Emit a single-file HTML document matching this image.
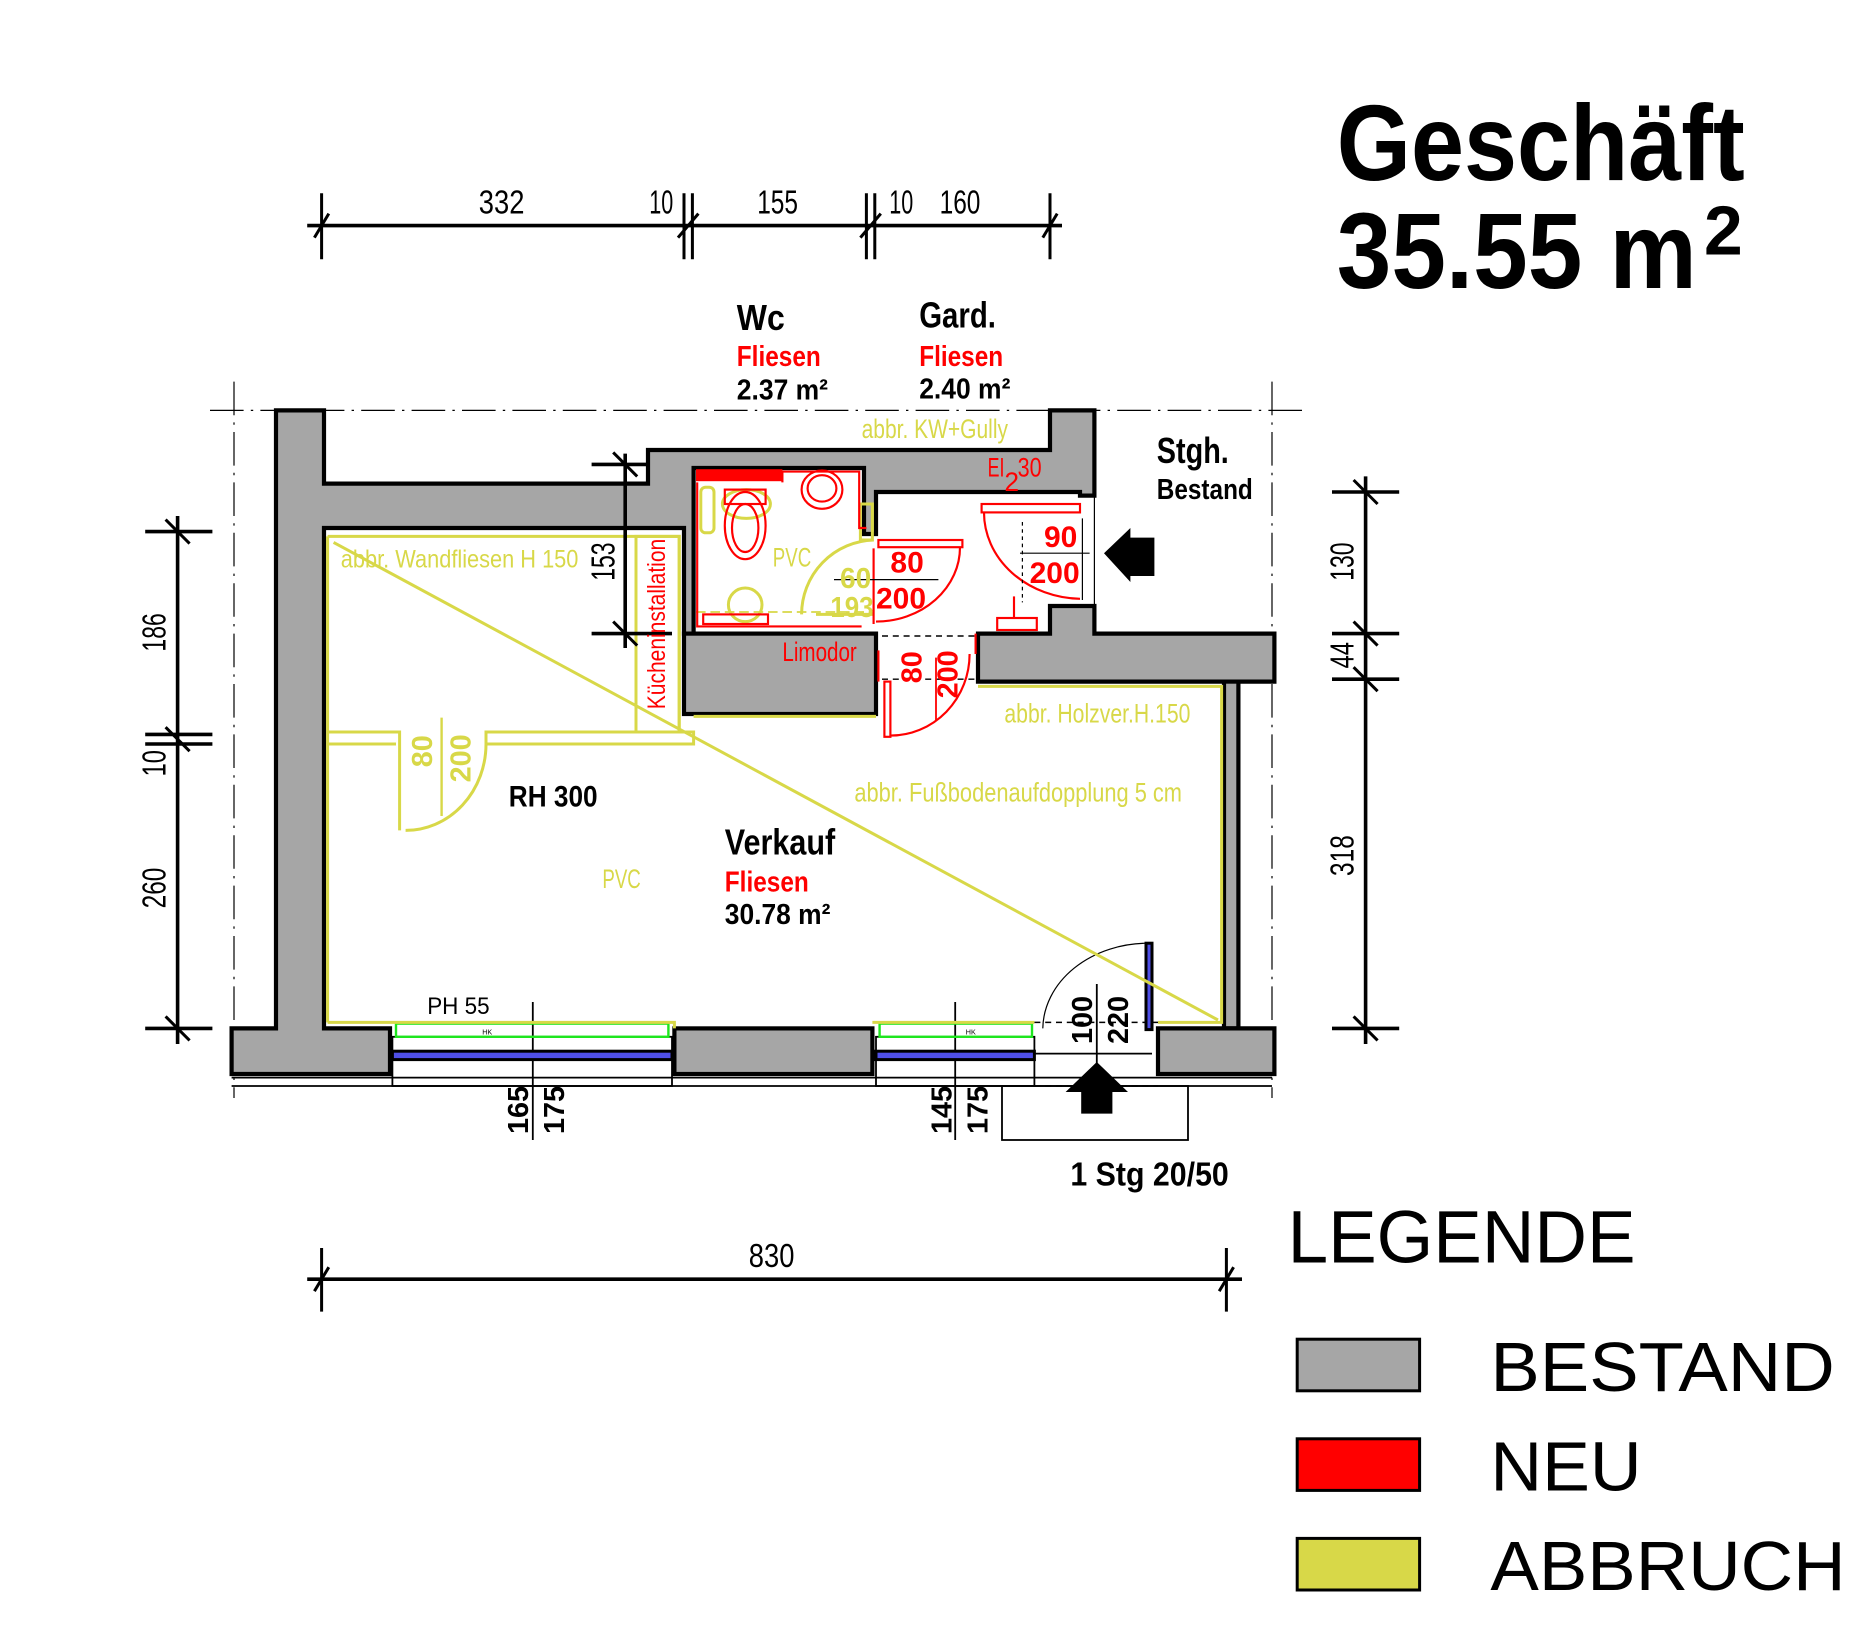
<!DOCTYPE html>
<html><head><meta charset="utf-8"><style>
html,body{margin:0;padding:0;background:#fff}
svg{display:block}
.n{font-family:"Liberation Sans Narrow","Liberation Sans",sans-serif}
.b{font-family:"Liberation Sans",sans-serif;font-weight:bold}
</style></head><body>
<svg width="1874" height="1650" viewBox="0 0 1561.67 1375" xmlns="http://www.w3.org/2000/svg">
<rect width="1561.67" height="1375" fill="#fff"/>
<g stroke="#000" stroke-width="1" stroke-dasharray="28,6,2,6" fill="none">
<line x1="175" y1="342" x2="1090" y2="342"/>
<line x1="195" y1="318" x2="195" y2="915"/>
<line x1="1060" y1="318" x2="1060" y2="915"/>
</g>
<g fill="#a6a6a6" stroke="#000" stroke-width="3.5" stroke-linejoin="miter">
<polygon points="230,342 270,342 270,403 540,403 540,375 875,375 875,342 912,342 912,413 900,413 900,410 730,410 730,445 720,445 720,390 578,390 578,528 570,528 570,440 270,440 270,857 325,857 325,895 193,895 193,857 230,857"/>
<rect x="570" y="528" width="160" height="67"/>
<polygon points="815,528 875,528 875,505 912,505 912,528 1062,528 1062,568 815,568"/>
<rect x="1020" y="568" width="12" height="289"/>
<rect x="562" y="857" width="165" height="38"/>
<polygon points="965,857 1062,857 1062,895 965,895"/>
</g>
<rect x="580" y="391" width="72" height="10" fill="#f00"/>
<g stroke="#000" stroke-width="1.5" fill="none">
<line x1="193" y1="905" x2="1060" y2="905"/>
<line x1="193" y1="898" x2="1060" y2="898"/>
<rect x="327" y="864" width="233" height="41"/>
<rect x="730" y="864" width="132" height="41"/>
<rect x="835" y="905" width="155" height="45"/>
<line x1="444" y1="835" x2="444" y2="950"/>
<line x1="796" y1="835" x2="796" y2="950"/>
<line x1="914" y1="820" x2="914" y2="905"/>
<line x1="862" y1="878" x2="960" y2="878"/>
</g>
<g stroke="#000" stroke-width="1.2" stroke-dasharray="5,4" fill="none">
<line x1="862" y1="852" x2="965" y2="852"/>
<line x1="862" y1="905" x2="965" y2="905"/>
<line x1="735" y1="530" x2="815" y2="530"/>
<line x1="735" y1="566" x2="815" y2="566"/>
</g>
<g fill="#5050e8" stroke="#000" stroke-width="2.5">
<rect x="327" y="876" width="233" height="7"/>
<rect x="730" y="876" width="132" height="7"/>
<rect x="955" y="786" width="5" height="72"/>
</g>
<g fill="none" stroke="#1ee61e" stroke-width="2">
<rect x="330" y="853" width="227" height="11"/>
<rect x="733" y="853" width="127" height="11"/>
</g>
<text x="406" y="862" font-size="6" font-family="Liberation Sans" text-anchor="middle">HK</text>
<text x="809" y="862" font-size="6" font-family="Liberation Sans" text-anchor="middle">HK</text>
<path d="M957,786 A88,72 0 0 0 869,857" fill="none" stroke="#000" stroke-width="1"/>
<polygon points="914,885 940,910 927,910 927,928 901,928 901,910 888,910" fill="#000"/>
<polygon points="920,461 942,440 942,448 962,448 962,480 942,480 942,485" fill="#000"/>
<g fill="none" stroke="#d8d848" stroke-width="2.5">
<polyline points="273,447 566,447 566,610"/>
<line x1="273" y1="447" x2="273" y2="852"/>
<polyline points="273,852 562,852 562,857"/>
<polyline points="727,852 862,852"/>
<polyline points="965,852 1018,852 1018,572 815,572"/>
<line x1="278" y1="452" x2="1015" y2="850"/>
<rect x="530" y="447" width="36" height="163"/>
<polyline points="273,610 333,610 333,692"/>
<polyline points="273,620 330,620"/>
<polyline points="405,620 405,610 578,610 578,620 405,620"/>
<path d="M338,692 A67,72 0 0 0 405,620"/>
<line x1="368" y1="598" x2="368" y2="680" stroke-width="2"/>
<line x1="578" y1="597" x2="730" y2="597"/>
<path d="M668,512 A62,62 0 0 1 728,450"/>
<line x1="680" y1="512" x2="728" y2="512"/>
<line x1="580" y1="510" x2="728" y2="510" stroke-dasharray="8,4" stroke-width="1.5"/>
<circle cx="621" cy="504" r="14"/>
<ellipse cx="622" cy="420" rx="20" ry="12"/>
<rect x="584" y="406" width="11" height="38" rx="4"/>
<rect x="717" y="420" width="10" height="30"/>
</g>
<g fill="none" stroke="#f00" stroke-width="1.8">
<polyline points="581,402 581,522 718,522"/>
<polyline points="652,402 652,393 716,393 716,440 722,440"/>
<rect x="586" y="512" width="54" height="8"/>
<ellipse cx="621" cy="438" rx="17" ry="28"/>
<ellipse cx="621" cy="440" rx="11" ry="20"/>
<rect x="604" y="408" width="34" height="12"/>
<ellipse cx="685" cy="408" rx="17" ry="16"/>
<ellipse cx="685" cy="407" rx="12" ry="11"/>
<rect x="732" y="450" width="70" height="6"/>
<path d="M800,456 A70,62 0 0 1 730,518"/>
<line x1="728" y1="457" x2="728" y2="520"/>
<rect x="818" y="420" width="82" height="7"/>
<path d="M820,427 A82,72 0 0 0 900,499"/>
<rect x="737" y="568" width="5" height="46"/>
<path d="M742,613 A66,68 0 0 0 808,545"/>
<line x1="732" y1="542" x2="732" y2="568"/>
<line x1="813" y1="528" x2="813" y2="545"/>
<line x1="852" y1="435" x2="852" y2="502" stroke="#000" stroke-width="1" stroke-dasharray="3,3"/>
<rect x="831" y="515" width="33" height="10"/>
<line x1="845" y1="497" x2="845" y2="515"/>
</g>
<g stroke="#000" stroke-width="1" fill="none">
<line x1="782" y1="483" x2="695" y2="483"/>
<line x1="850" y1="461" x2="908" y2="461"/>
<line x1="780" y1="548" x2="780" y2="600" stroke="#f00" stroke-width="1.5"/>
<line x1="902" y1="432" x2="902" y2="500"/>
<line x1="912" y1="413" x2="912" y2="505"/>
</g>
<g stroke="#000" stroke-width="3" fill="none">
<line x1="256" y1="188" x2="885" y2="188"/>
<line x1="121" y1="443" x2="177" y2="443"/>
<line x1="148" y1="430" x2="148" y2="870"/>
<line x1="121" y1="612" x2="177" y2="612"/>
<line x1="121" y1="620" x2="177" y2="620"/>
<line x1="121" y1="857" x2="177" y2="857"/>
<line x1="1138" y1="397" x2="1138" y2="870"/>
<line x1="1110" y1="410" x2="1166" y2="410"/>
<line x1="1110" y1="528" x2="1166" y2="528"/>
<line x1="1110" y1="566" x2="1166" y2="566"/>
<line x1="1110" y1="857" x2="1166" y2="857"/>
<line x1="256" y1="1066" x2="1035" y2="1066"/>
<line x1="521" y1="378" x2="521" y2="540"/>
<line x1="493" y1="387" x2="540" y2="387"/>
<line x1="493" y1="528" x2="560" y2="528"/>
</g>
<g stroke="#000" stroke-width="2.5" fill="none">
<line x1="268" y1="161" x2="268" y2="216"/><line x1="262" y1="198" x2="274" y2="178"/>
<line x1="570" y1="161" x2="570" y2="216"/><line x1="577" y1="161" x2="577" y2="216"/><line x1="565" y1="198" x2="582" y2="178"/>
<line x1="722" y1="161" x2="722" y2="216"/><line x1="729" y1="161" x2="729" y2="216"/><line x1="717" y1="198" x2="734" y2="178"/>
<line x1="875" y1="161" x2="875" y2="216"/><line x1="869" y1="198" x2="881" y2="178"/>
<line x1="268" y1="1040" x2="268" y2="1093"/><line x1="262" y1="1076" x2="274" y2="1056"/>
<line x1="1022" y1="1040" x2="1022" y2="1093"/><line x1="1016" y1="1076" x2="1028" y2="1056"/>
<line x1="138" y1="433" x2="158" y2="453"/><line x1="138" y1="606" x2="158" y2="626"/><line x1="138" y1="847" x2="158" y2="867"/>
<line x1="1128" y1="400" x2="1148" y2="420"/><line x1="1128" y1="518" x2="1148" y2="538"/><line x1="1128" y1="556" x2="1148" y2="576"/><line x1="1128" y1="847" x2="1148" y2="867"/>
<line x1="511" y1="377" x2="531" y2="397"/><line x1="511" y1="518" x2="531" y2="538"/>
</g>
<g class="n" font-size="28" fill="#000" lengthAdjust="spacingAndGlyphs">
<text x="399" y="178" textLength="38" lengthAdjust="spacingAndGlyphs">332</text>
<text x="541" y="178" textLength="20" lengthAdjust="spacingAndGlyphs">10</text>
<text x="631" y="178" textLength="34" lengthAdjust="spacingAndGlyphs">155</text>
<text x="741" y="178" textLength="20" lengthAdjust="spacingAndGlyphs">10</text>
<text x="783" y="178" textLength="34" lengthAdjust="spacingAndGlyphs">160</text>
<text x="624" y="1056" textLength="38" lengthAdjust="spacingAndGlyphs">830</text>
<text transform="translate(138,527) rotate(-90)" text-anchor="middle" textLength="32" lengthAdjust="spacingAndGlyphs">186</text>
<text transform="translate(138,636) rotate(-90)" text-anchor="middle" textLength="22" lengthAdjust="spacingAndGlyphs">10</text>
<text transform="translate(138,740) rotate(-90)" text-anchor="middle" textLength="34" lengthAdjust="spacingAndGlyphs">260</text>
<text transform="translate(1128,468) rotate(-90)" text-anchor="middle" textLength="32" lengthAdjust="spacingAndGlyphs">130</text>
<text transform="translate(1128,546) rotate(-90)" text-anchor="middle" textLength="22" lengthAdjust="spacingAndGlyphs">44</text>
<text transform="translate(1128,713) rotate(-90)" text-anchor="middle" textLength="34" lengthAdjust="spacingAndGlyphs">318</text>
<text transform="translate(512,468) rotate(-90)" text-anchor="middle" textLength="32" lengthAdjust="spacingAndGlyphs">153</text>
<text x="356" y="845" font-size="20" textLength="52" lengthAdjust="spacingAndGlyphs">PH 55</text>
</g>
<g class="b" fill="#000">
<text x="614" y="275" font-size="30" textLength="40" lengthAdjust="spacingAndGlyphs">Wc</text>
<text x="614" y="333" font-size="24" textLength="76" lengthAdjust="spacingAndGlyphs">2.37 m²</text>
<text x="766" y="273" font-size="30" textLength="64" lengthAdjust="spacingAndGlyphs">Gard.</text>
<text x="766" y="332" font-size="24" textLength="76" lengthAdjust="spacingAndGlyphs">2.40 m²</text>
<text x="964" y="386" font-size="30" textLength="60" lengthAdjust="spacingAndGlyphs">Stgh.</text>
<text x="964" y="416" font-size="24" textLength="80" lengthAdjust="spacingAndGlyphs">Bestand</text>
<text x="424" y="672" font-size="25" textLength="74" lengthAdjust="spacingAndGlyphs">RH 300</text>
<text x="604" y="712" font-size="30" textLength="92" lengthAdjust="spacingAndGlyphs">Verkauf</text>
<text x="604" y="770" font-size="24" textLength="88" lengthAdjust="spacingAndGlyphs">30.78 m²</text>
<text x="892" y="988" font-size="28" textLength="132" lengthAdjust="spacingAndGlyphs">1 Stg 20/50</text>
<text transform="translate(440,925) rotate(-90)" text-anchor="middle" font-size="24">165</text>
<text transform="translate(470,925) rotate(-90)" text-anchor="middle" font-size="24">175</text>
<text transform="translate(793,925) rotate(-90)" text-anchor="middle" font-size="24">145</text>
<text transform="translate(823,925) rotate(-90)" text-anchor="middle" font-size="24">175</text>
<text transform="translate(910,850) rotate(-90)" text-anchor="middle" font-size="24">100</text>
<text transform="translate(940,850) rotate(-90)" text-anchor="middle" font-size="24">220</text>
</g>
<g class="b" fill="#f00">
<text x="614" y="305" font-size="24" textLength="70" lengthAdjust="spacingAndGlyphs">Fliesen</text>
<text x="766" y="305" font-size="24" textLength="70" lengthAdjust="spacingAndGlyphs">Fliesen</text>
<text x="604" y="743" font-size="24" textLength="70" lengthAdjust="spacingAndGlyphs">Fliesen</text>
<text x="742" y="477" font-size="25">80</text>
<text x="730" y="507" font-size="25">200</text>
<text x="870" y="456" font-size="25">90</text>
<text x="858" y="486" font-size="25">200</text>
<text transform="translate(768,556) rotate(-90)" text-anchor="middle" font-size="24">80</text>
<text transform="translate(798,562) rotate(-90)" text-anchor="middle" font-size="24">200</text>
</g>
<g class="n" fill="#f00">
<text x="823" y="397" font-size="22" textLength="14" lengthAdjust="spacingAndGlyphs">EI</text><text x="837" y="409" font-size="22">2</text><text x="848" y="397" font-size="22" textLength="20" lengthAdjust="spacingAndGlyphs">30</text>
<text x="652" y="551" font-size="22" textLength="62" lengthAdjust="spacingAndGlyphs">Limodor</text>
<text transform="translate(554,520) rotate(-90)" text-anchor="middle" font-size="21" textLength="142" lengthAdjust="spacingAndGlyphs">Kücheninstallation</text>
</g>
<g class="n" fill="#d8d848">
<text x="718" y="365" font-size="22" textLength="122" lengthAdjust="spacingAndGlyphs">abbr. KW+Gully</text>
<text x="284" y="473" font-size="21" textLength="198" lengthAdjust="spacingAndGlyphs">abbr. Wandfliesen H 150</text>
<text x="644" y="472" font-size="22" textLength="32" lengthAdjust="spacingAndGlyphs">PVC</text>
<text x="700" y="490" font-size="24" font-weight="bold" textLength="26" lengthAdjust="spacingAndGlyphs">60</text>
<text x="692" y="514" font-size="24" font-weight="bold" textLength="36" lengthAdjust="spacingAndGlyphs">193</text>
<text x="837" y="602" font-size="22" textLength="155" lengthAdjust="spacingAndGlyphs">abbr. Holzver.H.150</text>
<text x="712" y="668" font-size="22" textLength="273" lengthAdjust="spacingAndGlyphs">abbr. Fußbodenaufdopplung 5 cm</text>
<text x="502" y="740" font-size="22" textLength="32" lengthAdjust="spacingAndGlyphs">PVC</text>
<text transform="translate(360,626) rotate(-90)" text-anchor="middle" font-size="24" font-weight="bold">80</text>
<text transform="translate(392,632) rotate(-90)" text-anchor="middle" font-size="24" font-weight="bold">200</text>
</g>
<g font-family="Liberation Sans" fill="#000">
<text x="1114" y="150" font-size="90" font-weight="bold" textLength="340" lengthAdjust="spacingAndGlyphs">Geschäft</text>
<text x="1114" y="240" font-size="90" font-weight="bold" textLength="300" lengthAdjust="spacingAndGlyphs">35.55 m</text>
<text x="1420" y="212" font-size="58" font-weight="bold">2</text>
<text x="1073" y="1052" font-size="62" textLength="290" lengthAdjust="spacingAndGlyphs">LEGENDE</text>
<text x="1242" y="1159" font-size="58" textLength="287" lengthAdjust="spacingAndGlyphs">BESTAND</text>
<text x="1242" y="1242" font-size="58" textLength="126" lengthAdjust="spacingAndGlyphs">NEU</text>
<text x="1242" y="1325" font-size="58" textLength="296" lengthAdjust="spacingAndGlyphs">ABBRUCH</text>
</g>
<g stroke="#000" stroke-width="2.5">
<rect x="1081" y="1116" width="102" height="43" fill="#a6a6a6"/>
<rect x="1081" y="1199" width="102" height="43" fill="#f00"/>
<rect x="1081" y="1282" width="102" height="43" fill="#d8d848"/>
</g>
</svg>
</body></html>
